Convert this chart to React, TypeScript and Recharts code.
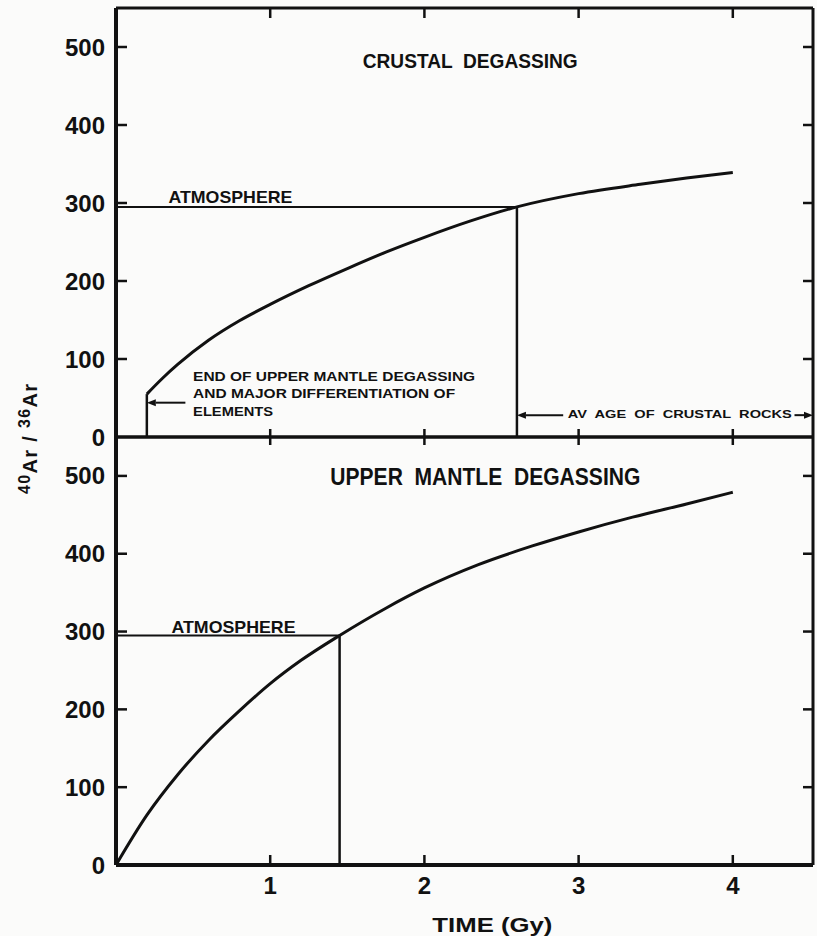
import React from "react";
import { LineChart, Line, XAxis, YAxis, ReferenceLine, ReferenceDot } from "recharts";

const TIME_TICKS = [1, 2, 3, 4];
const RATIO_TICKS = [0, 100, 200, 300, 400, 500];
const X_DOMAIN: [number, number] = [0, 4.52];
const Y_DOMAIN: [number, number] = [0, 550];
const ATMOSPHERE_RATIO = 295;

// crustal degassing: starts when upper mantle degassing ends
const CRUSTAL_TIME = [0.2, 0.3, 0.4, 0.6, 0.8, 1.0, 1.25, 1.5, 1.75, 2.0, 2.3, 2.6, 3.0, 3.4, 3.7, 4.0];
const CRUSTAL_RATIO = [55, 75, 93, 124, 149, 170, 194, 216, 237, 256, 277, 295, 312, 324, 332, 339];
const CRUSTAL_AV_AGE = 2.6;

// upper mantle degassing from t = 0
const MANTLE_TIME = [0, 0.2, 0.4, 0.6, 0.8, 1.0, 1.2, 1.45, 1.75, 2.0, 2.35, 2.7, 3.0, 3.35, 3.7, 4.0];
const MANTLE_RATIO = [0, 64, 116, 160, 198, 233, 263, 295, 330, 356, 386, 410, 428, 447, 464, 479];
const MANTLE_ATMOSPHERE_TIME = 1.45;

const NOTE_LINES = [
  "END OF UPPER MANTLE DEGASSING",
  "AND MAJOR DIFFERENTIATION OF",
  "ELEMENTS",
];

const INK = "#111";
const PAPER = "#fbfbfa";
const FONT = "'Liberation Sans', Arial, sans-serif";

const crustalRows = CRUSTAL_TIME.map((t, i) => ({ t, ratio: CRUSTAL_RATIO[i] }));
const mantleRows = MANTLE_TIME.map((t, i) => ({ t, ratio: MANTLE_RATIO[i] }));

const tickText = { fontSize: 24, fontWeight: 700, fill: INK, fontFamily: FONT };
const frameLine = { stroke: INK, strokeWidth: 3 };
const leftLine = { stroke: INK, strokeWidth: 4 };

// text placed at a data point (x, y = baseline start)
function noteShape(text: string, size: number, length: number) {
  return (p: any) => (
    <text
      x={p.cx}
      y={p.cy}
      fontFamily={FONT}
      fontWeight={700}
      fontSize={size}
      fill={INK}
      textLength={length}
      lengthAdjust="spacingAndGlyphs"
      style={{ whiteSpace: "pre" }}
    >
      {text}
    </text>
  );
}

// line ending in a filled arrow head at (x2, y2)
function arrowShape(p: any) {
  const { x1, y1, x2, y2 } = p;
  const dx = x2 - x1;
  const dy = y2 - y1;
  const len = Math.hypot(dx, dy) || 1;
  const ux = dx / len;
  const uy = dy / len;
  const head = 9;
  const half = 3.5;
  const bx = x2 - ux * head;
  const by = y2 - uy * head;
  return (
    <g>
      <line x1={x1} y1={y1} x2={bx} y2={by} stroke={INK} strokeWidth={2} />
      <polygon
        points={`${x2},${y2} ${bx - uy * half},${by + ux * half} ${bx + uy * half},${by - ux * half}`}
        fill={INK}
      />
    </g>
  );
}

// inward tick marks at both ends of a full-width reference line
function hTicks(p: any) {
  const left = Math.min(p.x1, p.x2);
  const right = Math.max(p.x1, p.x2);
  return (
    <g stroke={INK} strokeWidth={2.5}>
      <line x1={left} y1={p.y1} x2={left + 11} y2={p.y1} />
      <line x1={right - 10} y1={p.y1} x2={right} y2={p.y1} />
    </g>
  );
}

// inward tick marks at the top and bottom of a full-height reference line
function vTicks(top: number, bottom: number) {
  return (p: any) => {
    const y0 = Math.min(p.y1, p.y2);
    const y1 = Math.max(p.y1, p.y2);
    return (
      <g stroke={INK} strokeWidth={2.5}>
        <line x1={p.x1} y1={y0} x2={p.x1} y2={y0 + top} />
        <line x1={p.x1} y1={y1 - bottom} x2={p.x1} y2={y1} />
      </g>
    );
  };
}

const ids = { xAxisId: "base", yAxisId: "ratio" };

function CrustalPanel() {
  // extra bottom margin leaves room for the "0" label sitting on the shared axis
  return (
    <LineChart width={817} height={452} data={crustalRows} margin={{ top: 7, right: 3, bottom: 14, left: 0 }}>
      <XAxis xAxisId="frame" orientation="top" dataKey="t" type="number" domain={X_DOMAIN} ticks={TIME_TICKS}
        allowDataOverflow height={1} tick={false} tickLine={false} axisLine={frameLine} />
      <XAxis xAxisId="base" dataKey="t" type="number" domain={X_DOMAIN} ticks={TIME_TICKS}
        allowDataOverflow height={1} tick={false} tickLine={false} axisLine={frameLine} />
      <YAxis yAxisId="ratio" type="number" domain={Y_DOMAIN} ticks={RATIO_TICKS} interval={0} allowDataOverflow
        width={116} tickSize={-8} tickMargin={19} tick={tickText} tickLine={false} axisLine={leftLine} />
      <YAxis yAxisId="frame" orientation="right" type="number" domain={Y_DOMAIN} ticks={RATIO_TICKS} allowDataOverflow
        width={1} tick={false} tickLine={false} axisLine={frameLine} />

      {RATIO_TICKS.slice(1).map((v) => (
        <ReferenceLine key={`y${v}`} {...ids} y={v} shape={hTicks} />
      ))}
      {TIME_TICKS.map((t) => (
        <ReferenceLine key={`x${t}`} {...ids} x={t} shape={vTicks(10, 8)} />
      ))}

      <ReferenceLine {...ids} segment={[{ x: 0, y: ATMOSPHERE_RATIO }, { x: CRUSTAL_AV_AGE, y: ATMOSPHERE_RATIO }]}
        stroke={INK} strokeWidth={2} />
      <ReferenceLine {...ids} segment={[{ x: CRUSTAL_AV_AGE, y: 0 }, { x: CRUSTAL_AV_AGE, y: ATMOSPHERE_RATIO }]}
        stroke={INK} strokeWidth={2.5} />
      <ReferenceLine {...ids} segment={[{ x: CRUSTAL_TIME[0], y: 0 }, { x: CRUSTAL_TIME[0], y: CRUSTAL_RATIO[0] }]}
        stroke={INK} strokeWidth={2.5} />

      <ReferenceLine {...ids} segment={[{ x: 0.45, y: 44 }, { x: CRUSTAL_TIME[0], y: 44 }]} shape={arrowShape} />
      <ReferenceLine {...ids} segment={[{ x: 2.9, y: 28 }, { x: CRUSTAL_AV_AGE, y: 28 }]} shape={arrowShape} />
      <ReferenceLine {...ids} segment={[{ x: 4.4, y: 28 }, { x: 4.52, y: 28 }]} shape={arrowShape} ifOverflow="visible" />

      <Line {...ids} dataKey="ratio" type="monotone" stroke={INK} strokeWidth={3} dot={false} isAnimationActive={false} />

      <ReferenceDot {...ids} x={1.6} y={473} r={1} shape={noteShape("CRUSTAL  DEGASSING", 20, 215)} />
      <ReferenceDot {...ids} x={0.34} y={300} r={1} shape={noteShape("ATMOSPHERE", 17, 124)} />
      <ReferenceDot {...ids} x={0.5} y={72} r={1} shape={noteShape(NOTE_LINES[0], 12, 282)} />
      <ReferenceDot {...ids} x={0.5} y={50} r={1} shape={noteShape(NOTE_LINES[1], 12, 262)} />
      <ReferenceDot {...ids} x={0.5} y={27} r={1} shape={noteShape(NOTE_LINES[2], 12, 80)} />
      <ReferenceDot {...ids} x={2.93} y={24} r={1} shape={noteShape("AV  AGE  OF  CRUSTAL  ROCKS", 11, 224)} />
    </LineChart>
  );
}

function MantlePanel() {
  return (
    <LineChart width={817} height={507} data={mantleRows} margin={{ top: 7, right: 3, bottom: 0, left: 0 }}>
      <XAxis xAxisId="frame" orientation="top" dataKey="t" type="number" domain={X_DOMAIN} ticks={TIME_TICKS}
        allowDataOverflow height={1} tick={false} tickLine={false} axisLine={frameLine} />
      <XAxis xAxisId="base" dataKey="t" type="number" domain={X_DOMAIN} ticks={TIME_TICKS}
        allowDataOverflow height={71} tickSize={-8} tickMargin={20} tick={tickText} tickLine={false}
        axisLine={leftLine}
        label={{
          content: (p: any) => (
            <text
              x={p.viewBox.x + p.viewBox.width * 0.54}
              y={p.viewBox.y + 67}
              textAnchor="middle"
              fontFamily={FONT}
              fontWeight={700}
              fontSize={21}
              fill={INK}
              textLength={120}
              lengthAdjust="spacingAndGlyphs"
            >
              TIME (Gy)
            </text>
          ),
        }}
      />
      <YAxis yAxisId="ratio" type="number" domain={Y_DOMAIN} ticks={RATIO_TICKS} interval={0} allowDataOverflow
        width={116} tickSize={-8} tickMargin={19} tick={tickText} tickLine={false} axisLine={leftLine} />
      <YAxis yAxisId="frame" orientation="right" type="number" domain={Y_DOMAIN} ticks={RATIO_TICKS} allowDataOverflow
        width={1} tick={false} tickLine={false} axisLine={frameLine} />

      {RATIO_TICKS.slice(1).map((v) => (
        <ReferenceLine key={`y${v}`} {...ids} y={v} shape={hTicks} />
      ))}
      {TIME_TICKS.map((t) => (
        <ReferenceLine key={`x${t}`} {...ids} x={t} shape={vTicks(8, 10)} />
      ))}

      <ReferenceLine {...ids} segment={[{ x: 0, y: ATMOSPHERE_RATIO }, { x: MANTLE_ATMOSPHERE_TIME, y: ATMOSPHERE_RATIO }]}
        stroke={INK} strokeWidth={2} />
      <ReferenceLine {...ids} segment={[{ x: MANTLE_ATMOSPHERE_TIME, y: 0 }, { x: MANTLE_ATMOSPHERE_TIME, y: ATMOSPHERE_RATIO }]}
        stroke={INK} strokeWidth={2.5} />

      <Line {...ids} dataKey="ratio" type="monotone" stroke={INK} strokeWidth={3} dot={false} isAnimationActive={false} />

      <ReferenceDot {...ids} x={1.39} y={488} r={1} shape={noteShape("UPPER  MANTLE  DEGASSING", 23, 310)} />
      <ReferenceDot {...ids} x={0.36} y={298} r={1} shape={noteShape("ATMOSPHERE", 17, 124)} />
    </LineChart>
  );
}

export default function App() {
  return (
    <div style={{ position: "absolute", left: 0, top: 0, width: 817, height: 936, background: PAPER, overflow: "hidden" }}>
      <div style={{ position: "absolute", left: 0, top: 429 }}>
        <MantlePanel />
      </div>
      <div style={{ position: "absolute", left: 0, top: 0 }}>
        <CrustalPanel />
      </div>
      <svg width={60} height={936} style={{ position: "absolute", left: 0, top: 0 }}>
        <text
          x={37}
          y={439}
          transform="rotate(-90 37 439)"
          textAnchor="middle"
          fontFamily={FONT}
          fontWeight={700}
          fontSize={20}
          fill={INK}
          textLength={110}
          style={{ whiteSpace: "pre" }}
        >
          <tspan fontSize={16} dy={-7}>40</tspan>
          <tspan dy={7}>Ar / </tspan>
          <tspan fontSize={16} dy={-7}>36</tspan>
          <tspan dy={7}>Ar</tspan>
        </text>
      </svg>
    </div>
  );
}
